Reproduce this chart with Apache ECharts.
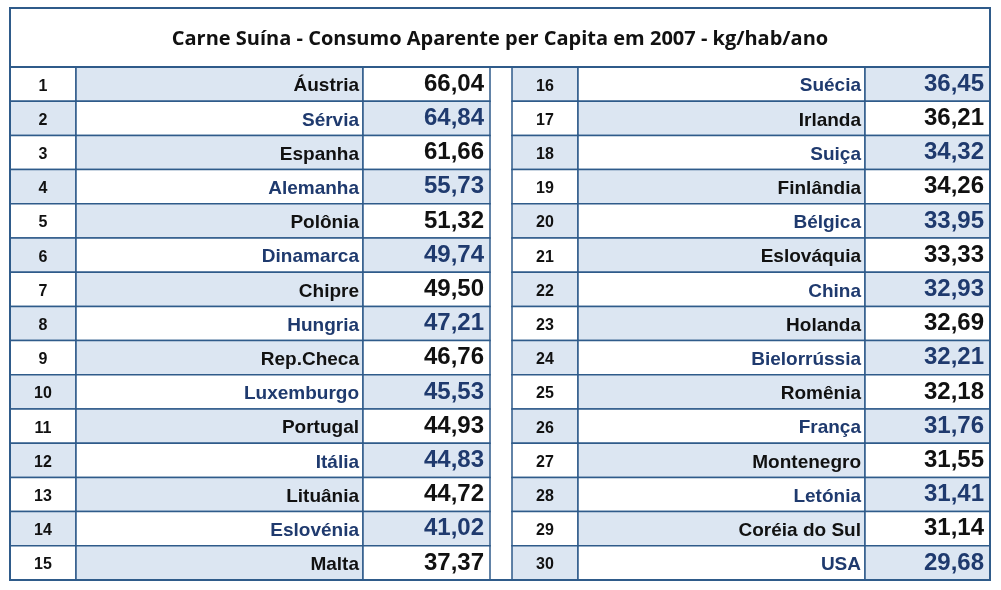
<!DOCTYPE html>
<html><head><meta charset="utf-8">
<script src="https://cdn.jsdelivr.net/npm/echarts@6/dist/echarts.min.js"></script>
<style>body{margin:0;background:#fff}#c{width:1001px;height:590px}</style></head>
<body><div id="c"></div>
<script>
const title = 'Carne Suína - Consumo Aparente per Capita em 2007 - kg/hab/ano';
const ranks = [1,2,3,4,5,6,7,8,9,10,11,12,13,14,15,16,17,18,19,20,21,22,23,24,25,26,27,28,29,30];
const countries = ['Áustria','Sérvia','Espanha','Alemanha','Polônia','Dinamarca','Chipre','Hungria','Rep.Checa','Luxemburgo','Portugal','Itália','Lituânia','Eslovénia','Malta',
 'Suécia','Irlanda','Suiça','Finlândia','Bélgica','Eslováquia','China','Holanda','Bielorrússia','Romênia','França','Montenegro','Letónia','Coréia do Sul','USA'];
const values = ['66,04','64,84','61,66','55,73','51,32','49,74','49,50','47,21','46,76','45,53','44,93','44,83','44,72','41,02','37,37',
 '36,45','36,21','34,32','34,26','33,95','33,33','32,93','32,69','32,21','32,18','31,76','31,55','31,41','31,14','29,68'];

const L = 10, BORDER = '#2f5b8a', LIGHT = '#dce6f2', DARK = '#1f3a6e';
const cols = [[0, 66, 353, 480], [502, 568, 855, 980]];
const rowCats = ranks.slice(0, 15).map(String);
const data = ranks.map((r, i) => [i % 15, Math.floor(i / 15), r, countries[i], values[i]]);

const chart = echarts.init(document.getElementById('c'));
chart.setOption({
  animation: false,
  grid: {left: L, right: 11, top: 67, bottom: 10},
  xAxis: {type: 'value', min: 0, max: 980, show: false},
  yAxis: {type: 'category', data: rowCats, inverse: true, show: false},
  graphic: [
    {type: 'rect', shape: {x: L, y: 8, width: 980, height: 572}, style: {fill: 'none', stroke: BORDER, lineWidth: 2}, z: 100},
    {type: 'line', shape: {x1: L, y1: 67, x2: L + 980, y2: 67}, style: {stroke: BORDER, lineWidth: 2}, z: 100},
    {type: 'text', x: 500, y: 39, style: {text: title, fill: '#111', font: 'bold 20px "Open Sans"', align: 'center', verticalAlign: 'middle'}, z: 100}
  ],
  series: [{
    type: 'custom',
    data: data,
    renderItem: function (params, api) {
      const row = api.value(0), side = api.value(1);
      const idx = params.dataIndex;
      const d = data[idx];
      const y = api.coord([0, row])[1];
      const h = api.size([0, 1])[1];
      const top = y - h / 2;
      const c = cols[side].map(v => api.coord([v, row])[0]);
      const odd = idx % 2 === 0;
      const txt = odd ? '#111' : DARK;
      const cell = (x1, x2, fill) => ({type: 'rect', shape: {x: x1, y: top, width: x2 - x1, height: h},
        style: {fill: fill, stroke: BORDER, lineWidth: 1.5}});
      return {type: 'group', children: [
        cell(c[0], c[1], odd ? '#fff' : LIGHT),
        cell(c[1], c[2], odd ? LIGHT : '#fff'),
        cell(c[2], c[3], odd ? '#fff' : LIGHT),
        {type: 'text', style: {x: c[0] + 33, y: y + 2, text: String(d[2]), fill: '#111', font: 'bold 16px Arial', align: 'center', verticalAlign: 'middle'}},
        {type: 'text', style: {x: c[2] - 4, y: y + 2, text: d[3], fill: txt, font: 'bold 19px "Liberation Sans"', align: 'right', verticalAlign: 'middle'}},
        {type: 'text', style: {x: c[3] - 6, y: y, text: d[4], fill: txt, font: 'bold 24px "Liberation Sans"', align: 'right', verticalAlign: 'middle'}}
      ]};
    }
  }]
});
</script></body></html>
